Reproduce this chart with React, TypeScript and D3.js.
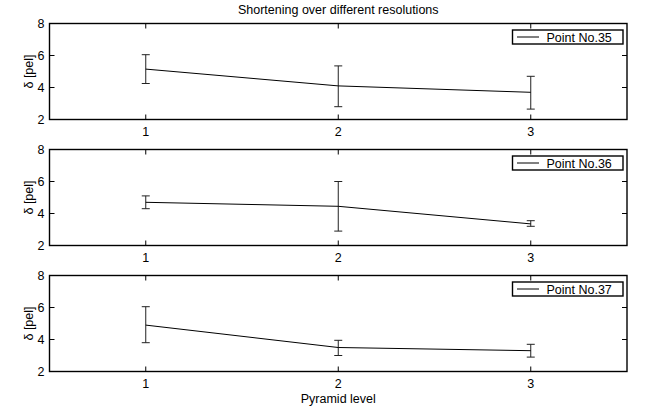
import React, { useRef, useEffect } from 'react';
import * as d3 from 'd3';

const title = 'Shortening over different resolutions';
const xLabel = 'Pyramid level';
const yLabel = 'δ [pel]';
const levels = [1, 2, 3];
const yTicks = [2, 4, 6, 8];
const pointNames = ['Point No.35', 'Point No.36', 'Point No.37'];
const means = [
  [5.15, 4.1, 3.7],
  [4.7, 4.45, 3.35],
  [4.9, 3.5, 3.3],
];
const lows = [
  [4.25, 2.8, 2.65],
  [4.3, 2.9, 3.2],
  [3.8, 3.0, 2.9],
];
const highs = [
  [6.05, 5.35, 4.7],
  [5.1, 6.0, 3.55],
  [6.05, 3.95, 3.7],
];

const App = () => {
  const ref = useRef<SVGSVGElement>(null);

  useEffect(() => {
    const width = 645;
    const height = 412;
    const left = 49.5;
    const right = 627;
    const panelTops = [23.5, 149.5, 275.5];
    const panelH = 96;
    const font = 'Liberation Sans, Arial, sans-serif';
    const fs = 12.5;

    const svg = d3.select(ref.current);
    svg.selectAll('*').remove();
    svg.append('rect').attr('width', width).attr('height', height).attr('fill', '#fff');

    const x = d3.scaleLinear().domain([0.5, 3.5]).range([left, right]);

    svg.append('text')
      .attr('x', (left + right) / 2)
      .attr('y', 13.5)
      .attr('text-anchor', 'middle')
      .attr('font-family', font)
      .attr('font-size', fs)
      .text(title);

    pointNames.forEach((name, p) => {
      const top = panelTops[p];
      const y = d3.scaleLinear().domain([2, 8]).range([top + panelH, top]);
      const g = svg.append('g');

      // ticks inside, on all sides
      levels.forEach(v => {
        g.append('line').attr('x1', x(v)).attr('x2', x(v))
          .attr('y1', top + panelH).attr('y2', top + panelH - 5)
          .attr('stroke', '#000').attr('stroke-width', 1);
        g.append('line').attr('x1', x(v)).attr('x2', x(v))
          .attr('y1', top).attr('y2', top + 5)
          .attr('stroke', '#000').attr('stroke-width', 1);
        g.append('text')
          .attr('x', x(v)).attr('y', top + panelH + 16.5)
          .attr('text-anchor', 'middle')
          .attr('font-family', font).attr('font-size', fs)
          .text(v);
      });
      yTicks.forEach(v => {
        g.append('line').attr('x1', left).attr('x2', left + 5)
          .attr('y1', y(v)).attr('y2', y(v))
          .attr('stroke', '#000').attr('stroke-width', 1);
        g.append('line').attr('x1', right).attr('x2', right - 5)
          .attr('y1', y(v)).attr('y2', y(v))
          .attr('stroke', '#000').attr('stroke-width', 1);
        g.append('text')
          .attr('x', left - 5).attr('y', y(v) + 4.5)
          .attr('text-anchor', 'end')
          .attr('font-family', font).attr('font-size', fs)
          .text(v);
      });

      g.append('rect')
        .attr('x', left).attr('y', top)
        .attr('width', right - left).attr('height', panelH)
        .attr('fill', 'none').attr('stroke', '#000').attr('stroke-width', 1.4);

      g.append('text')
        .attr('transform', `translate(${left - 17},${top + panelH / 2}) rotate(-90)`)
        .attr('text-anchor', 'middle')
        .attr('font-family', font).attr('font-size', fs)
        .text(yLabel);

      // error bars
      levels.forEach((v, i) => {
        const cx = x(v);
        g.append('line').attr('x1', cx).attr('x2', cx)
          .attr('y1', y(lows[p][i])).attr('y2', y(highs[p][i]))
          .attr('stroke', '#222').attr('stroke-width', 1);
        [lows[p][i], highs[p][i]].forEach(e => {
          g.append('line').attr('x1', cx - 4).attr('x2', cx + 4)
            .attr('y1', y(e)).attr('y2', y(e))
            .attr('stroke', '#222').attr('stroke-width', 1);
        });
      });

      const ln = d3.line<number>().x((d, i) => x(levels[i])).y(d => y(d));
      g.append('path')
        .attr('d', ln(means[p]))
        .attr('fill', 'none')
        .attr('stroke', '#000')
        .attr('stroke-width', 1);

      // legend
      const lx = 512.5;
      const ly = top + 6.5;
      g.append('rect')
        .attr('x', lx).attr('y', ly)
        .attr('width', 110.5).attr('height', 14)
        .attr('fill', '#fff').attr('stroke', '#000').attr('stroke-width', 1.4);
      g.append('line')
        .attr('x1', lx + 4.5).attr('x2', lx + 26.5)
        .attr('y1', ly + 7).attr('y2', ly + 7)
        .attr('stroke', '#000').attr('stroke-width', 1);
      g.append('text')
        .attr('x', lx + 34).attr('y', ly + 11.5)
        .attr('font-family', font).attr('font-size', fs)
        .text(name);
    });

    svg.append('text')
      .attr('x', (left + right) / 2)
      .attr('y', 402.5)
      .attr('text-anchor', 'middle')
      .attr('font-family', font)
      .attr('font-size', fs)
      .text(xLabel);
  }, []);

  return (
    <svg ref={ref} width={645} height={412} style={{ display: 'block', position: 'absolute', left: 0, top: 0 }} />
  );
};

export default App;
